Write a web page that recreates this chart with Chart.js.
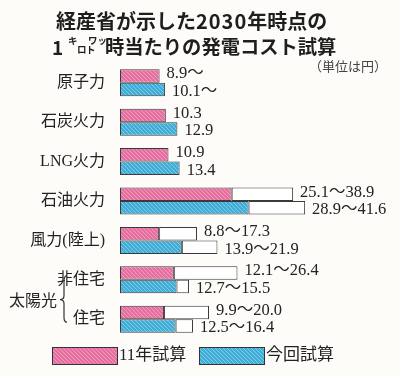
<!DOCTYPE html>
<html>
<head>
<meta charset="utf-8">
<script src="https://cdn.jsdelivr.net/npm/chart.js@4/dist/chart.umd.min.js"></script>
<style>
  body { margin: 0; background: #fdfcf9; }
  #wrap { position: relative; width: 400px; height: 376px; }
  canvas { position: absolute; left: 0; top: 0; }
  .t { position: absolute; font-family: "Noto Sans CJK JP", sans-serif; font-weight: 700; color: #1e1e1e; white-space: nowrap; line-height: 1; }
  .kana { position: absolute; font-family: "Noto Sans CJK JP", sans-serif; font-weight: 700; font-size: 9.5px; line-height: 1; color: #1e1e1e; }
  #unit { position: absolute; left: 309px; top: 59px; font-family: "Noto Sans CJK JP", sans-serif; font-size: 13px; color: #444; line-height: 1; }
</style>
</head>
<body>
<div id="wrap">
  <canvas id="costChart" width="400" height="376"></canvas>
  <div class="t" style="left:56px; top:11px; font-size:20px;">経産省が示した<span style="letter-spacing:1px">2030</span>年時点の</div>
  <div class="t" style="left:52px; top:37px; font-size:19px;">1</div>
  <span class="kana" style="left:68px; top:36px;">キ</span>
  <span class="kana" style="left:77px; top:45px;">ロ</span>
  <span class="kana" style="left:86px; top:45px;">ト</span>
  <span class="kana" style="left:88px; top:36px;">ワッ</span>
  <div class="t" style="left:105px; top:37px; font-size:19.3px;">時当たりの発電コスト試算</div>
  <div id="unit">（単位は円）</div>
</div>
<script>
// カテゴリとデータ（単位：円/kWh）
const categories = ['原子力', '石炭火力', 'LNG火力', '石油火力', '風力(陸上)', '非住宅', '住宅'];
const low2011 = [8.9, 10.3, 10.9, 25.1, 8.8, 12.1, 9.9];
const high2011 = [null, null, null, 38.9, 17.3, 26.4, 20.0];
const lowNow = [10.1, 12.9, 13.4, 28.9, 13.9, 12.7, 12.5];
const highNow = [null, null, null, 41.6, 21.9, 15.5, 16.4];
const openEnded = [true, false, false, false, false, false, false]; // 「〜」だけの値
const seriesNames = ['11年試算', '今回試算'];

// 網点っぽいパターン
function makePattern(base, light) {
  let c = document.createElement('canvas');
  c.width = 4; c.height = 4;
  let g = c.getContext('2d');
  g.fillStyle = base;
  g.fillRect(0, 0, 4, 4);
  g.fillStyle = light;
  for (let i = 0; i < 4; i++) {
    g.fillRect(i, (i + 1) % 4, 1, 1);
  }
  return document.getElementById('costChart').getContext('2d').createPattern(c, 'repeat');
}

const pink = makePattern('#e56f9f', '#f09cc0');
const blue = makePattern('#41acd5', '#80cce6');

function rangeOf(low, high) {
  return low.map((v, i) => high[i] == null ? null : high[i] - v);
}

function labelOf(low, high, i) {
  let s = low[i].toFixed(1);
  if (high[i] != null) return s + '〜' + high[i].toFixed(1);
  if (openEnded[i]) return s + '〜';
  return s;
}

const serifFont = '"Liberation Serif", "Noto Sans CJK JP", serif';

// 値ラベル・太陽光の括弧・凡例を描く
const decoPlugin = {
  id: 'deco',
  afterDatasetsDraw(chart) {
    let ctx = chart.ctx;
    ctx.save();
    ctx.font = '16.5px ' + serifFont;
    ctx.fillStyle = '#222';
    ctx.textBaseline = 'middle';
    ctx.textAlign = 'left';
    [[0, 1, low2011, high2011, -2], [2, 3, lowNow, highNow, 2]].forEach(([a, b, low, high, dy]) => {
      let ma = chart.getDatasetMeta(a);
      let mb = chart.getDatasetMeta(b);
      categories.forEach((c, i) => {
        let bar = high[i] != null ? mb.data[i] : ma.data[i];
        ctx.fillText(labelOf(low, high, i), bar.x + 7, bar.y + dy);
      });
    });

    // 太陽光
    let ys = chart.scales.y;
    let y1 = ys.getPixelForValue(5);
    let y2 = ys.getPixelForValue(6);
    let mid = (y1 + y2) / 2;
    ctx.font = '16px "Noto Sans CJK JP", sans-serif';
    ctx.textAlign = 'right';
    ctx.fillText('太陽光', 57, mid);
    ctx.strokeStyle = '#333';
    ctx.lineWidth = 1.2;
    let bx = 64, top = y1 - 4, bot = y2 + 3;
    ctx.beginPath();
    ctx.moveTo(bx + 3, top);
    ctx.quadraticCurveTo(bx, top, bx, top + 5);
    ctx.lineTo(bx, mid - 4);
    ctx.quadraticCurveTo(bx, mid, bx - 4, mid);
    ctx.quadraticCurveTo(bx, mid, bx, mid + 4);
    ctx.lineTo(bx, bot - 5);
    ctx.quadraticCurveTo(bx, bot, bx + 3, bot);
    ctx.stroke();

    // 凡例
    let items = [[pink, 52, seriesNames[0]], [blue, 199, seriesNames[1]]];
    ctx.font = '17px ' + serifFont;
    ctx.textAlign = 'left';
    items.forEach(([fill, x, name]) => {
      ctx.fillStyle = fill;
      ctx.fillRect(x, 347, 65, 17);
      ctx.strokeStyle = '#333';
      ctx.lineWidth = 1;
      ctx.strokeRect(x + 0.5, 347.5, 65, 17);
      ctx.fillStyle = '#222';
      ctx.fillText(name, x + 67, 356);
    });
    ctx.restore();
  }
};

new Chart(document.getElementById('costChart'), {
  type: 'bar',
  data: {
    labels: categories,
    datasets: [
      { label: seriesNames[0], data: low2011, stack: 's2011', backgroundColor: pink },
      { label: seriesNames[0] + '幅', data: rangeOf(low2011, high2011), stack: 's2011', backgroundColor: '#ffffff' },
      { label: seriesNames[1], data: lowNow, stack: 'sNow', backgroundColor: blue },
      { label: seriesNames[1] + '幅', data: rangeOf(lowNow, highNow), stack: 'sNow', backgroundColor: '#ffffff' }
    ].map(d => Object.assign(d, {
      borderColor: '#3a3a3a',
      borderWidth: 1,
      borderSkipped: false,
      categoryPercentage: 0.685,
      barPercentage: 1
    }))
  },
  options: {
    indexAxis: 'y',
    responsive: false,
    animation: false,
    layout: { padding: { top: 63, right: 13, bottom: 37, left: 0 } },
    plugins: {
      legend: { display: false },
      tooltip: { enabled: false }
    },
    scales: {
      x: { stacked: true, min: 0, max: 60, display: false },
      y: {
        stacked: true,
        grid: { display: false },
        border: { display: false },
        ticks: {
          padding: 7,
          color: '#222',
          font: { size: 16, family: serifFont }
        },
        afterFit(scale) {
          scale.width = 120;
        }
      }
    }
  },
  plugins: [decoPlugin]
});
</script>
</body>
</html>
